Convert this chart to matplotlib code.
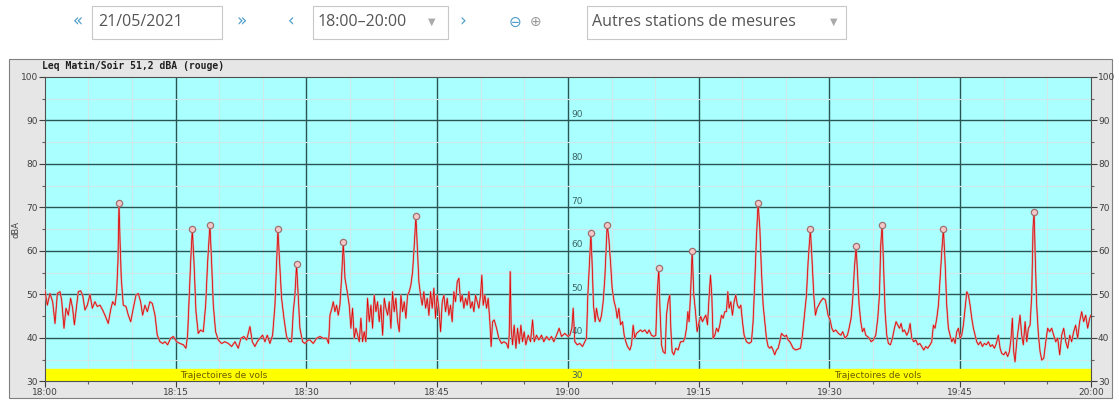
# noise level chart, Leq 18:00-20:00 on 21/05/2021

import matplotlib
matplotlib.use('Agg')
import matplotlib.pyplot as plt
from matplotlib.patches import Rectangle
from matplotlib.ticker import MultipleLocator, FixedLocator

# minutes after 18:00
trace_min = [
    0.0, 0.28, 0.58, 0.89, 1.16, 1.43, 1.73, 1.92, 2.19, 2.42, 2.69, 2.95, 3.18, 3.38, 3.64,
    3.83, 4.10, 4.33, 4.60, 4.87, 5.17, 5.44, 5.74, 6.01, 6.32, 6.62, 6.89, 7.27, 7.54, 7.77,
    8.04, 8.23, 8.38, 8.50, 8.61, 8.76, 8.99, 9.30, 9.57, 9.84, 10.14, 10.45, 10.71, 10.98,
    11.21, 11.48, 11.75, 12.05, 12.32, 12.63, 12.89, 13.20, 13.51, 13.77, 14.08, 14.42, 14.73,
    15.11, 15.49, 15.88, 16.18, 16.37, 16.56, 16.72, 16.91, 17.10, 17.33, 17.59, 17.86, 18.17,
    18.44, 18.67, 18.93, 19.12, 19.32, 19.58, 19.89, 20.27, 20.65, 21.04, 21.42, 21.80, 22.18,
    22.49, 22.83, 23.14, 23.52, 23.79, 24.09, 24.36, 24.67, 24.97, 25.24, 25.51, 25.81, 26.12,
    26.39, 26.58, 26.73, 26.92, 27.15, 27.42, 27.72, 28.03, 28.30, 28.49, 28.68, 28.87, 29.06,
    29.25, 29.56, 29.83, 30.21,
    30.40, 30.78, 31.17, 31.55, 31.93, 32.31, 32.54, 32.70, 32.92, 33.08, 33.27, 33.46, 33.65,
    33.84, 34.03, 34.23, 34.42, 34.68, 34.91, 35.10, 35.29, 35.49, 35.68, 35.87, 36.06, 36.25,
    36.44, 36.63, 36.82, 37.01, 37.21, 37.40, 37.59, 37.78, 37.97, 38.16, 38.35, 38.54, 38.74,
    38.93, 39.12, 39.31, 39.50, 39.69, 39.88, 40.07, 40.26, 40.46, 40.65, 40.84, 41.03, 41.22,
    41.41, 41.60, 41.79, 41.98, 42.18, 42.37, 42.56, 42.71, 42.90, 43.09, 43.28, 43.47, 43.67,
    43.86, 44.05, 44.24, 44.43, 44.62, 44.81, 45.00, 45.19, 45.39, 45.58, 45.77, 45.96, 46.15,
    46.34, 46.53, 46.72, 46.91, 47.11, 47.30, 47.49, 47.68, 47.87, 48.06, 48.25, 48.44, 48.64,
    48.83, 49.02, 49.21, 49.40, 49.59, 49.78, 49.97, 50.12, 50.28, 50.47, 50.66, 50.85, 51.04,
    51.19, 51.35, 51.54, 51.81, 52.07, 52.38, 52.65, 52.95, 53.15, 53.26, 53.38, 53.49, 53.64,
    53.83, 54.03, 54.22, 54.41, 54.60, 54.79, 54.98, 55.17, 55.44, 55.71, 55.94, 56.13, 56.39,
    56.66, 56.97, 57.23, 57.54, 57.85, 58.11, 58.38, 58.69, 58.99, 59.26, 59.64, 60.02,
    60.22, 60.45, 60.60, 60.79, 61.06, 61.36, 61.67, 61.94, 62.13, 62.28, 62.44, 62.63, 62.78,
    62.93, 63.12, 63.27, 63.47, 63.66, 63.85, 64.04, 64.23, 64.50, 64.69, 64.88, 65.07, 65.30,
    65.49, 65.65, 65.84, 66.03, 66.26, 66.45, 66.64, 66.83, 67.10, 67.29, 67.48, 67.67, 67.86,
    68.09, 68.32, 68.55, 68.82, 69.09, 69.31, 69.58, 69.85, 70.08, 70.23, 70.42, 70.54, 70.73,
    70.92, 71.15, 71.30, 71.49, 71.68, 71.80, 71.95, 72.14, 72.37, 72.64, 72.91, 73.21, 73.41,
    73.60, 73.75, 73.90, 74.06, 74.25, 74.44, 74.63, 74.82, 75.05, 75.24, 75.43, 75.62, 75.81,
    76.01, 76.20, 76.35, 76.50, 76.65, 76.85, 77.04, 77.23, 77.42, 77.61, 77.80, 77.99, 78.18,
    78.34, 78.49, 78.68, 78.87, 79.06, 79.25, 79.44, 79.64, 79.83, 80.02, 80.21, 80.48, 80.78,
    81.05, 81.24, 81.43, 81.62, 81.81, 82.01, 82.20, 82.39, 82.58, 82.77, 82.96, 83.15, 83.34,
    83.53, 83.72, 83.92, 84.11, 84.30, 84.49, 84.68, 84.87, 85.06, 85.25, 85.45, 85.64, 85.83,
    86.13, 86.40, 86.67, 86.90, 87.17, 87.36, 87.55, 87.81, 88.01, 88.20, 88.39, 88.58, 88.77,
    88.96, 89.27, 89.53, 89.84,
    90.07, 90.27, 90.46, 90.72, 91.03, 91.30, 91.52, 91.79, 92.06, 92.25, 92.48, 92.67, 92.86,
    93.05, 93.21, 93.40, 93.59, 93.78, 93.97, 94.16, 94.35, 94.58, 94.77, 95.04, 95.31, 95.54,
    95.73, 95.88, 96.04, 96.19, 96.38, 96.57, 96.76, 96.99, 97.22, 97.45, 97.64, 97.84, 98.03,
    98.22, 98.41, 98.60, 98.87, 99.06, 99.25, 99.44, 99.67, 99.90, 100.13, 100.36, 100.58,
    100.81, 101.04, 101.27, 101.54, 101.73, 101.92, 102.11, 102.31, 102.50, 102.69, 102.88,
    103.07, 103.26, 103.45, 103.64, 103.83, 104.03, 104.22, 104.41, 104.60, 104.79, 104.98,
    105.17, 105.36, 105.56, 105.75, 105.94, 106.13, 106.32, 106.51, 106.70, 106.89, 107.09,
    107.32, 107.54, 107.77, 108.00, 108.23, 108.46, 108.69, 108.92, 109.14, 109.37, 109.57,
    109.76, 109.99, 110.22, 110.44, 110.64, 110.83, 110.98, 111.13, 111.29, 111.48, 111.67,
    111.86, 112.05, 112.24, 112.44, 112.63, 112.82, 113.01, 113.20, 113.35, 113.47, 113.62,
    113.77, 113.97, 114.16, 114.35, 114.58, 114.81, 115.03, 115.26, 115.49, 115.72, 115.95,
    116.18, 116.41, 116.64, 116.87, 117.10, 117.33, 117.56, 117.78, 118.01, 118.24, 118.47,
    118.70, 118.93, 119.16, 119.39, 119.62, 119.85, 120.0,
]

# dBA
trace_db = [
    51, 47.5, 50.2, 48.3, 43.3, 50.2, 50.6, 48.7, 42.2, 46.8, 45.2, 49.1, 46.8, 43, 47.5,
    50.6, 50.8, 49.8, 46.4, 47.5, 50, 46.8, 48.3, 47.2, 47.5, 46.4, 45.2, 43.3, 46.4, 48.3,
    47.5, 50.6, 57.5, 71, 62.9, 53.7, 47.5, 47.2, 45.2, 43.7, 46.8, 49.8, 50.2, 48.3,
    45.2, 47.5, 46, 48.3, 47.9, 45.2, 40.6, 39.1, 38.7, 39.1, 38.4, 39.9, 40.3,
    39.1, 38.7, 38.4, 37.6, 40.6, 49.8, 57.5, 65, 57.5, 46, 41, 41.8, 41.4,
    47.5, 57.5, 66, 57.5, 47.5, 41.4, 39.5, 38.7, 39.1, 38.7, 38, 39.1, 37.6,
    39.9, 40.3, 39.5, 42.6, 39.1, 38, 39.1, 39.9, 40.6, 39.1, 40.6, 38.7, 40.6,
    47.5, 57.5, 65, 57.5, 49.1, 44.5, 40.3, 39.1, 39.1, 46, 49.8, 57, 49.8,
    42.2, 39.1, 38.7, 39.5,
    39.5, 38.7, 39.9, 40.3, 39.9, 39.9, 38.7, 45.2, 46.8, 48.3, 46, 47.5, 45.2,
    47.5, 53.7, 62, 53.7, 50.6, 47.5, 42.2, 46.8, 39.9, 42.2, 40.6, 39.1, 44.5,
    39.1, 41.4, 39.1, 49.1, 43.7, 47.5, 42.2, 49.8, 46, 48.3, 43.7, 47.5, 40.6,
    49.1, 46.8, 45.2, 48.3, 42.2, 50.6, 46, 49.1, 43.7, 41.4, 49.8, 46, 48.3,
    44.5, 49.8, 50.6, 52.1, 55.2, 61.3, 68, 61.3, 52.9, 49.8, 47.5, 50.6, 46.8,
    49.1, 45.2, 50.6, 46.8, 51.4, 44.5, 49.8, 46.8, 41.4, 48.3, 49.8, 46, 49.1,
    45.2, 47.5, 43.7, 50.6, 48.3, 52.9, 53.7, 48.3, 49.8, 46.8, 49.1, 47.5, 50.6,
    46.8, 48.3, 46, 49.8, 48.3, 46.8, 49.8, 54.4, 47.5, 49.8, 46.8, 49.1, 43.7,
    38, 43.7, 44.1, 42.2, 39.9, 38.7, 39.1, 38.7, 37.6, 40.6, 55.2, 42.2, 38.4,
    42.9, 37.6, 42.2, 38.7, 42.9, 39.1, 41.4, 38.4, 40.6, 39.1, 44.1, 39.1, 40.6,
    39.5, 40.6, 39.1, 40.3, 39.5, 40.3, 39.1, 40.6, 42.2, 40.3, 41, 40.3,
    40.6, 42.2, 46.8, 39.1, 38.4, 38.7, 38, 39.1, 39.9, 49.8, 56, 64, 56.7,
    47.5, 43.7, 46.8, 44.5, 43.7, 45.2, 48.3, 53.7, 66, 62.9, 57.5, 51.4, 48.3,
    46.8, 44.5, 46.8, 43, 43.7, 40.6, 39.1, 38, 37.2, 38.4, 42.9, 39.9, 41,
    41.4, 41.8, 41.4, 41.8, 41, 41.8, 40.6, 40.3, 40.6, 49.8, 56, 47.5, 38.4,
    36.8, 36.4, 45.2, 48.3, 49.8, 42.2, 36.8, 36.1, 37.6, 37.2, 39.1, 39.1, 39.9,
    42.2, 46, 43.7, 49.8, 60, 49.8, 46, 41.4, 43.7, 44.9, 43.7, 44.5, 45.2,
    43, 49.8, 54.4, 49.8, 39.9, 40.6, 42.2, 41.4, 42.9, 45.2, 44.5, 46, 46,
    50.6, 46.8, 48.3, 45.2, 48.3, 49.8, 47.5, 46.8, 47.5, 43.7, 40.6, 39.1, 38.7,
    39.1, 43.7, 52.9, 62.9, 71, 65.2, 55.2, 47.5, 43.7, 39.9, 38, 37.6, 38,
    37.2, 36.1, 37.2, 37.6, 39.1, 41, 40.6, 40.3, 40.6, 39.5, 39.1, 38.4, 37.6,
    37.2, 37.4, 37.6, 40.6, 46, 49.8, 57.5, 65, 57.5, 49.8, 45.2, 46.8, 47.5,
    48.3, 49.1, 48.7, 45.2,
    44.1, 42.2, 41.4, 41.8, 41, 40.6, 41.4, 39.9, 40.6, 42.2, 44.5, 49.1, 56,
    61, 55.2, 47.5, 43.7, 41.4, 42.2, 40.6, 40.3, 39.9, 39.1, 39.5, 40.6, 44.5,
    49.8, 61.3, 66, 57.5, 46, 40.6, 38.7, 38.4, 39.9, 42.2, 43.7, 42.9, 42.2,
    43.3, 41.4, 41.8, 40.6, 41.4, 43.3, 39.9, 39.1, 39.5, 38.4, 38.7, 38,
    37.2, 38, 37.6, 38.4, 39.1, 42.9, 42.2, 44.5, 47.5, 53.7, 59.8,
    65, 57.5, 47.5, 42.2, 40.6, 39.1, 39.9, 38.7, 41.4, 42.2, 39.9,
    40.6, 42.9, 46.8, 50.6, 49.8, 47.5, 44.5, 42.2, 40.6, 39.1, 38.4,
    39.1, 38, 38.7, 38.4, 39.1, 38, 38.4, 37.6, 38.7, 40.6, 37.6,
    36.4, 36.1, 36.8, 35.7, 36.8, 39.9, 44.5, 36.8, 34.5, 39.1, 42.2,
    45.2, 40.6, 38.4, 43.7, 39.1, 42.2, 42.9, 49.8, 65.2, 69, 57.5,
    47.5, 40.6, 36.8, 34.9, 35.3, 39.1, 42.2, 41.4, 42.2, 40.6, 39.1,
    39.9, 36.1, 40.6, 42.2, 39.1, 37.6, 40.6, 39.1, 41.4, 42.9, 39.9,
    43.7, 46, 43.7, 45.2, 42.2, 44.5, 45.2,
]

# flyover peaks (circles)
peak_min = [8.50, 16.91, 18.93, 26.73, 28.87, 34.23, 42.56, 62.63, 64.50, 70.42, 74.25,
            81.81, 87.81, 93.05, 96.04, 103.07, 113.47]
peak_db = [71, 65, 66, 65, 57, 62, 68, 64, 66, 56, 60, 71, 65, 61, 66, 65, 69]

time_labels = ['18:00', '18:15', '18:30', '18:45', '19:00', '19:15', '19:30', '19:45', '20:00']
mid_labels = [30, 40, 50, 60, 70, 80, 90]
band_labels = [(15, 'Trajectoires de vols'), (90, 'Trajectoires de vols')]

W, H = 1119, 400
fig = plt.figure(figsize=(W / 100, H / 100), dpi=100)
fig.patch.set_facecolor('white')


def fx(px):
    return px / W


def fy(py):
    return 1 - py / H


# ---- header bar (web controls) ----
txt = dict(fontfamily='Open Sans', color='#555555', va='center')
for x0, x1 in [(92, 222), (313, 448), (587, 846)]:
    fig.patches.append(Rectangle((fx(x0), fy(39)), fx(x1 - x0), 33 / H,
                                 transform=fig.transFigure, facecolor='white',
                                 edgecolor='#c8c8c8', lw=0.8))
fig.text(fx(98), fy(22), '21/05/2021', fontsize=11.5, **txt)
fig.text(fx(318), fy(22), '18:00–20:00', fontsize=11.5, **txt)
fig.text(fx(592), fy(22), 'Autres stations de mesures', fontsize=11.5, **txt)
for x, s in [(78, '«'), (242, '»'), (291, '‹'), (463, '›')]:
    fig.text(fx(x), fy(21), s, fontsize=12, ha='center', va='center', color='#4a9cc8',
             fontfamily='DejaVu Sans')
for x in [432, 834]:
    fig.text(fx(x), fy(22), '▼', fontsize=7, ha='center', va='center', color='#aaaaaa',
             fontfamily='DejaVu Sans')
fig.text(fx(515), fy(22), '⊖', fontsize=11, ha='center', va='center', color='#4a9cc8',
         fontfamily='DejaVu Sans')
fig.text(fx(536), fy(22), '⊕', fontsize=10, ha='center', va='center', color='#999999',
         fontfamily='DejaVu Sans')

# ---- chart panel (behind the axes) ----
panel = Rectangle((fx(9), fy(398)), fx(1103), 339 / H, transform=fig.transFigure,
                  facecolor='#e6e6e6', edgecolor='#808080', lw=0.8, zorder=-5)
fig.patches.append(panel)

ax = fig.add_axes([fx(44.9), fy(381.3), fx(1091 - 44.9), (381.3 - 76.8) / H])
ax.set_facecolor('#aaffff')
ax.set_xlim(0, 120)
ax.set_ylim(30, 100)

# grid
for m in range(5, 120, 5):
    major = m % 15 == 0
    ax.axvline(m, color='#2a5555' if major else '#cfe8e8', lw=1.0 if major else 0.8, zorder=1)
for v in range(35, 100, 5):
    major = v % 10 == 0
    ax.axhline(v, color='#2a5555' if major else '#cfe8e8', lw=1.0 if major else 0.8, zorder=1)

# flight path band
ax.axhspan(30, 32.8, color='#ffff00', zorder=2)
for m, s in band_labels:
    ax.text(m + 0.5, 31.4, s, fontsize=6.5, color='#6b5a00', va='center', ha='left', zorder=3)

# trace
ax.plot(trace_min, trace_db, color='#d4a6a6', lw=1.4, zorder=3, solid_joinstyle='round')
ax.plot(trace_min, trace_db, color='#e00000', lw=0.55, zorder=4)
ax.plot(peak_min, peak_db, 'o', ms=4.5, mfc='#f4c8c8', mec='#a07070', mew=0.9, zorder=5)

# inner scale at 19:00
for v in mid_labels:
    ax.text(60.4, v + 0.3, str(v), fontsize=6.5, color='#3c6464', va='bottom', ha='left', zorder=3)

ax.set_xticks(range(0, 121, 15))
ax.set_xticklabels(time_labels)
ax.xaxis.set_minor_locator(FixedLocator(range(5, 120, 5)))
ax.yaxis.set_major_locator(MultipleLocator(10))
ax.yaxis.set_minor_locator(MultipleLocator(5))
ax.tick_params(axis='both', which='major', labelsize=6.5, labelcolor='#404040', color='#404040',
               length=4, width=0.8, direction='out', pad=1)
ax.tick_params(axis='both', which='minor', length=2, width=0.8, color='#606060', direction='out')
ax.tick_params(axis='y', which='both', right=True, labelright=True)
ax.set_ylabel('dBA', fontsize=6, color='#404040', labelpad=0)
for sp in ax.spines.values():
    sp.set_color('#505050')
    sp.set_linewidth(0.8)

fig.text(fx(42), fy(66), 'Leq Matin/Soir 51,2 dBA (rouge)', fontsize=7, fontweight='bold',
         fontfamily='DejaVu Sans Mono', color='#202020', va='center', ha='left')

fig.savefig('out.png', dpi=100)
